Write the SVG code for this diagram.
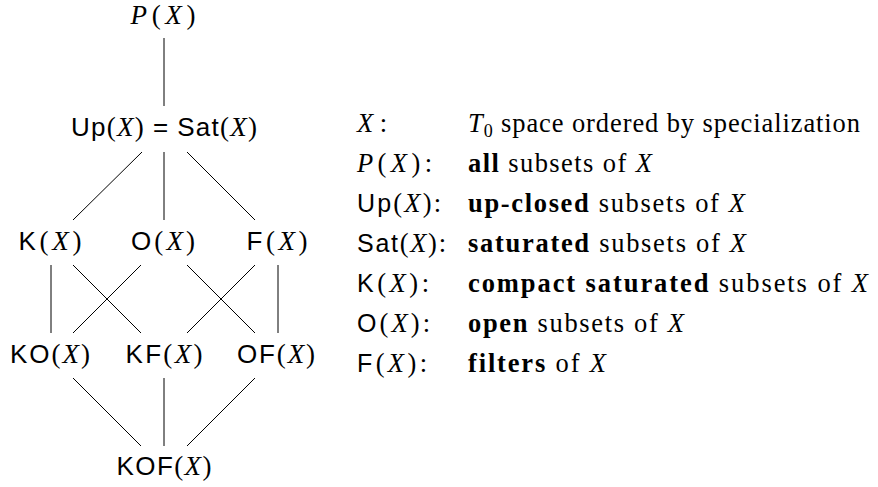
<svg xmlns="http://www.w3.org/2000/svg" width="878" height="487" viewBox="0 0 878 487">
<style>
text{font-family:"Liberation Serif","DejaVu Serif",serif;font-size:26.5px;fill:#000}
.n{text-anchor:middle;font-size:27px}
.s{font-family:"Liberation Sans","DejaVu Sans",sans-serif;font-size:25px}
.n .s{font-size:26px}
.i{font-style:italic}
.b{font-weight:bold}
.sub{font-size:18px}
#edges line{stroke:#000;stroke-width:1}
</style>
<rect width="878" height="487" fill="#fff"/>
<g id="edges">
<line x1="164" y1="38" x2="164" y2="106"/>
<line x1="142" y1="152" x2="73" y2="220"/>
<line x1="164" y1="152" x2="164" y2="220"/>
<line x1="187" y1="152" x2="255" y2="220"/>
<line x1="51" y1="265" x2="51" y2="333"/>
<line x1="73" y1="265" x2="141" y2="333"/>
<line x1="141" y1="265" x2="73" y2="333"/>
<line x1="187" y1="265" x2="255" y2="333"/>
<line x1="255" y1="265" x2="187" y2="333"/>
<line x1="278" y1="265" x2="278" y2="333"/>
<line x1="73" y1="378" x2="141" y2="446"/>
<line x1="164" y1="378" x2="164" y2="446"/>
<line x1="255" y1="378" x2="187" y2="446"/>
</g>
<g id="node-P"><text class="n" x="163" y="24" textLength="65"><tspan class="i">P</tspan>(<tspan class="i">X</tspan>)</text></g>
<g id="node-Up"><text class="n" x="164" y="136" textLength="186"><tspan class="s">Up</tspan>(<tspan class="i">X</tspan>) <tspan class="s">=</tspan> <tspan class="s">Sat</tspan>(<tspan class="i">X</tspan>)</text></g>
<g id="node-K"><text class="n" x="50" y="250" textLength="63"><tspan class="s">K</tspan>(<tspan class="i">X</tspan>)</text></g>
<g id="node-O"><text class="n" x="163" y="250" textLength="64"><tspan class="s">O</tspan>(<tspan class="i">X</tspan>)</text></g>
<g id="node-F"><text class="n" x="277" y="250" textLength="61"><tspan class="s">F</tspan>(<tspan class="i">X</tspan>)</text></g>
<g id="node-KO"><text class="n" x="50" y="363" textLength="80"><tspan class="s">KO</tspan>(<tspan class="i">X</tspan>)</text></g>
<g id="node-KF"><text class="n" x="164" y="363" textLength="77"><tspan class="s">KF</tspan>(<tspan class="i">X</tspan>)</text></g>
<g id="node-OF"><text class="n" x="276" y="363" textLength="78"><tspan class="s">OF</tspan>(<tspan class="i">X</tspan>)</text></g>
<g id="node-KOF"><text class="n" x="164" y="475" textLength="95"><tspan class="s">KOF</tspan>(<tspan class="i">X</tspan>)</text></g>
<g id="legend">
<text x="357" y="132" textLength="30"><tspan class="i">X</tspan>:</text>
<text x="468" y="132" textLength="392"><tspan class="i">T</tspan><tspan class="sub" dy="5">0</tspan><tspan dy="-5"> space ordered by specialization</tspan></text>
<text x="357" y="172" textLength="75"><tspan class="i">P</tspan>(<tspan class="i">X</tspan>):</text>
<text x="468" y="172" textLength="184"><tspan class="b">all</tspan> subsets of <tspan class="i">X</tspan></text>
<text x="357" y="212" textLength="84"><tspan class="s">Up</tspan>(<tspan class="i">X</tspan>):</text>
<text x="468" y="212" textLength="277"><tspan class="b">up-closed</tspan> subsets of <tspan class="i">X</tspan></text>
<text x="357" y="252" textLength="89"><tspan class="s">Sat</tspan>(<tspan class="i">X</tspan>):</text>
<text x="468" y="252" textLength="278"><tspan class="b">saturated</tspan> subsets of <tspan class="i">X</tspan></text>
<text x="357" y="292" textLength="72"><tspan class="s">K</tspan>(<tspan class="i">X</tspan>):</text>
<text x="468" y="292" textLength="400"><tspan class="b">compact saturated</tspan> subsets of <tspan class="i">X</tspan></text>
<text x="357" y="332" textLength="73"><tspan class="s">O</tspan>(<tspan class="i">X</tspan>):</text>
<text x="468" y="332" textLength="216"><tspan class="b">open</tspan> subsets of <tspan class="i">X</tspan></text>
<text x="357" y="372" textLength="70"><tspan class="s">F</tspan>(<tspan class="i">X</tspan>):</text>
<text x="468" y="372" textLength="138"><tspan class="b">filters</tspan> of <tspan class="i">X</tspan></text>
</g>
</svg>
